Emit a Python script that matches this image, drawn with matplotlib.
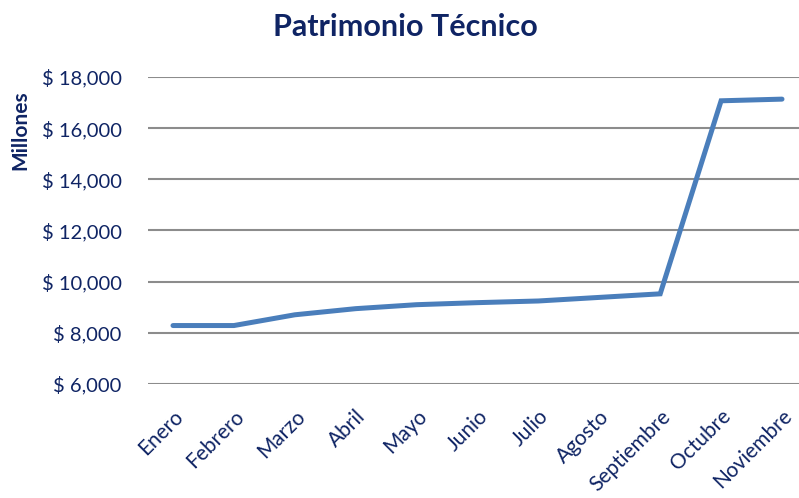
import matplotlib
matplotlib.use("Agg")
import matplotlib.pyplot as plt

months = ["Enero", "Febrero", "Marzo", "Abril", "Mayo", "Junio", "Julio",
          "Agosto", "Septiembre", "Octubre", "Noviembre"]
patrimonio = [8285, 8285, 8705, 8945, 9100, 9180, 9245, 9385, 9525, 17070, 17135]
yticks = [6000, 8000, 10000, 12000, 14000, 16000, 18000]
ytick_labels = [f"$ {v:,}" for v in yticks]

navy = "#0F2464"
plt.rcParams['font.family'] = ['Lato', 'DejaVu Sans']

fig = plt.figure(figsize=(7.99, 4.98), dpi=100)
W, H = 799, 498
left, right, top, bottom = 148, 799, 77, 384
ax = fig.add_axes([left / W, 1 - bottom / H, (right - left) / W, (bottom - top) / H])

x = list(range(len(months)))
ax.plot(x, patrimonio, color="#4A7EBB", lw=3.6, solid_capstyle="round",
        solid_joinstyle="miter", zorder=3, clip_on=False)

step = 60.9
ax.set_xlim(-(173 - left) / step, 10 + (right - 782) / step)
ax.set_ylim(6000, 18000)
ax.set_yticks(yticks)
ax.set_yticklabels(ytick_labels, color=navy, fontsize=14.5)
ax.set_xticks(x)
ax.set_xticklabels(months, color=navy, fontsize=15, rotation=45,
                   ha="right", va="top", rotation_mode="anchor")
ax.tick_params(axis="both", length=0)
ax.tick_params(axis="y", pad=19)
ax.tick_params(axis="x", pad=16)

ax.grid(axis="y", color="#8C8C8C", lw=1.5)
ax.set_axisbelow(True)
for s in ax.spines.values():
    s.set_visible(False)

fig.text(405 / W, 1 - 27 / H, "Patrimonio Técnico", ha="center", va="center",
         fontsize=22, fontweight="bold", color=navy)
fig.text(20 / W, 1 - 130 / H, "Millones", rotation=90, ha="center", va="center",
         fontsize=15, fontweight="bold", color=navy)

fig.savefig("out.png", dpi=100)
